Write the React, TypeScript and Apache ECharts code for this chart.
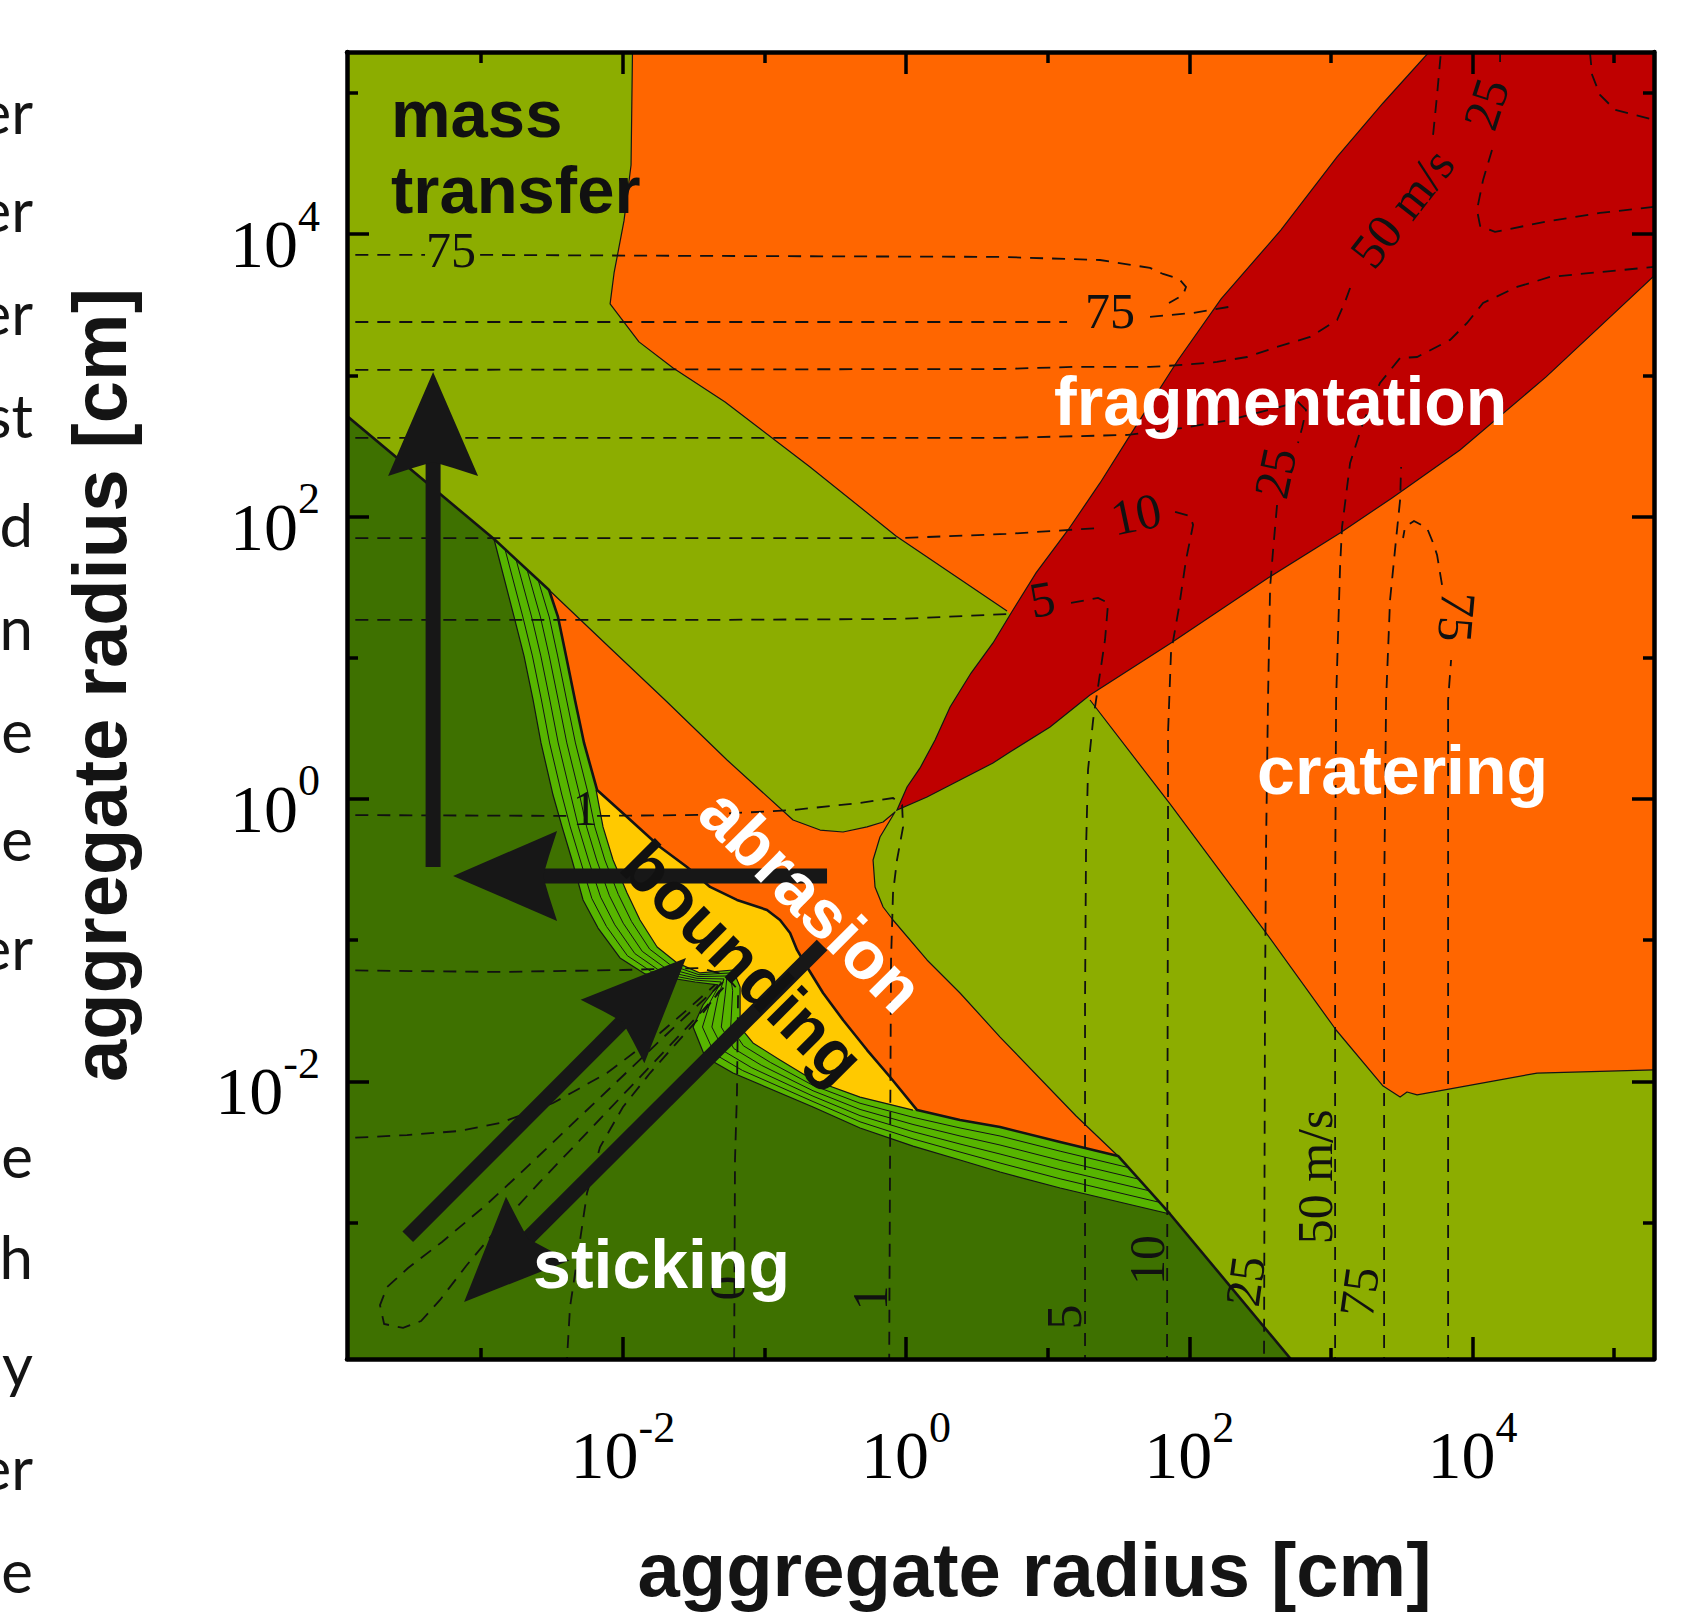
import React, { useEffect, useRef } from "react";
import * as echarts from "echarts";

type Pt = [number, number];

// Both axes: log10(aggregate radius / cm)
const xRange: Pt = [-3.948, 5.282];
const yRange: Pt = [-3.966, 5.29];
const labelledDecades = [-2, 0, 2, 4];
const otherDecades = [-3, -1, 1, 3, 5];

// ---- outcome regions (log10 r1, log10 r2) ----
const orangeRegion: Pt[] = [
  [-1.928, 5.6], [-1.942, 4.49], [-1.992, 4.094], [-2.062, 3.725], [-2.09, 3.506],
  [-1.886, 3.237], [-1.645, 3.052], [-1.278, 2.812], [-0.678, 2.351], [-0.071, 1.863],
  [0.713, 1.331], [1.299, 0.701], [1.864, -0.035], [2.528, -0.928], [3.037, -1.636],
  [3.369, -2.033], [3.489, -2.111], [3.538, -2.075], [3.609, -2.096], [4.456, -1.941],
  [5.282, -1.919], [5.6, -1.92], [5.6, 5.6],
];
const orangeEdge: Pt[] = orangeRegion.slice(0, 11);
const crateringEdge: Pt[] = orangeRegion.slice(11, 22);

const fragmentationRed: Pt[] = [
  [-0.064, -0.078], [0.007, 0.085], [0.099, 0.22], [0.205, 0.418], [0.311, 0.652],
  [0.459, 0.892], [0.614, 1.105], [0.742, 1.317], [0.918, 1.601], [1.144, 1.905],
  [1.37, 2.238], [1.575, 2.564], [1.921, 3.109], [2.225, 3.541], [2.648, 4.03],
  [3.044, 4.547], [3.369, 4.929], [3.7, 5.297], [3.937, 5.6], [5.6, 5.6], [5.6, 4.01],
  [5.282, 3.704], [4.52, 2.989], [3.912, 2.472], [3.432, 2.132], [3.065, 1.884],
  [2.556, 1.565], [1.871, 1.105], [1.299, 0.737], [1.017, 0.51], [0.734, 0.333],
  [0.614, 0.255], [0.381, 0.135], [0.148, 0.014],
];

const abrasionRegion: Pt[] = [
  [-2.521, 1.48], [-2.09, 1.069], [-1.702, 0.701], [-1.264, 0.276], [-0.798, -0.149],
  [-0.607, -0.22], [-0.445, -0.234], [-0.275, -0.198], [-0.162, -0.163], [-0.078, -0.092],
  [-0.184, -0.269], [-0.233, -0.432], [-0.219, -0.623], [-0.162, -0.765], [-0.092, -0.857],
  [0.148, -1.14], [0.381, -1.374], [0.664, -1.686], [1.201, -2.245], [1.497, -2.528],
  [0.664, -2.323], [0.381, -2.273], [0.078, -2.203], [-0.749, -1.778], [-1.808, -1.069],
  [-2.232, -0.007], [-2.443, 1.055],
];
const abrasionEdge: Pt[] = abrasionRegion.slice(0, 20);

const bouncingRegion: Pt[] = [
  [-2.182, 0.064], [-1.97, -0.127], [-1.737, -0.34], [-1.547, -0.482], [-1.384, -0.623],
  [-1.194, -0.715], [-0.982, -0.786], [-0.89, -0.857], [-0.819, -0.949], [-0.77, -1.069],
  [-0.699, -1.19], [-0.586, -1.374], [-0.445, -1.565], [-0.275, -1.778], [-0.113, -1.969],
  [0.078, -2.203], [-0.395, -2.203], [-1.102, -1.848], [-1.596, -1.424], [-1.879, -0.999],
  [-2.161, -0.361],
];
const bouncingEdge: Pt[] = bouncingRegion.slice(0, 16);

// transition bands between sticking and bouncing / abrasion (outer and inner edge)
const bandOuter: Pt[] = [
  [-2.521, 1.48], [-2.458, 1.289], [-2.401, 1.013], [-2.338, 0.701], [-2.274, 0.397],
  [-2.189, 0.064], [-2.14, -0.198], [-2.069, -0.432], [-1.97, -0.666], [-1.879, -0.857],
  [-1.758, -1.048], [-1.617, -1.161], [-1.455, -1.232], [-1.222, -1.211], [-1.172, -1.331],
  [-1.172, -1.615], [-1.081, -1.728], [-0.89, -1.848], [-0.657, -1.99], [-0.325, -2.111],
  [0.049, -2.203], [0.381, -2.273], [0.664, -2.323], [1.088, -2.429], [1.497, -2.528],
];
const bandInner: Pt[] = [
  [-2.91, 1.841], [-2.768, 1.289], [-2.698, 1.013], [-2.634, 0.701], [-2.578, 0.397],
  [-2.493, 0.028], [-2.429, -0.198], [-2.359, -0.432], [-2.281, -0.715], [-2.175, -0.914],
  [-2.02, -1.126], [-1.843, -1.239], [-1.49, -1.296], [-1.328, -1.317], [-1.434, -1.459],
  [-1.504, -1.615], [-1.419, -1.827], [-1.222, -1.941], [-0.657, -2.181], [-0.325, -2.33],
  [0.049, -2.458], [0.381, -2.557], [0.664, -2.642], [1.088, -2.755], [1.864, -2.939],
];
const stickingTopStart: Pt = [-4.5, 3.176];
const stickingBottomEnd: Pt = [3.16, -4.5];
const lowerLeftCorner: Pt = [-4.5, -4.5];
const bandLevels = [0.2, 0.4, 0.6, 0.8];

// ---- velocity contours (dashed), each a list of segments ----
const contour75Upper: Pt[][] = [
  [[-4.2, 3.853], [-3.397, 3.853]],
  [[-3.008, 3.853], [-1.455, 3.846], [0.664, 3.839], [1.37, 3.817], [1.723, 3.761],
   [1.815, 3.718], [1.928, 3.683], [1.977, 3.626], [1.956, 3.569], [1.857, 3.513]],
];
const contour75Lower: Pt[][] = [
  [[-4.2, 3.378], [-1.455, 3.378], [1.137, 3.378]],
  [[1.723, 3.414], [2.027, 3.442], [2.323, 3.492]],
];
const contour75Right: Pt[][] = [
  [[3.828, -4.2], [3.828, -1.424], [3.828, 0.701], [3.849, 0.984]],
  [[3.785, 1.516], [3.75, 1.728], [3.722, 1.813], [3.679, 1.919], [3.587, 1.969],
   [3.524, 1.926], [3.51, 1.848]],
];
const contour75Left: Pt[][] = [
  [[3.376, -4.2], [3.376, -0.715], [3.39, 0.701], [3.418, 1.409], [3.46, 1.834],
   [3.489, 2.118], [3.496, 2.351]],
];
const contour50Upper: Pt[][] = [
  [[-4.2, 3.038], [0.664, 3.045], [1.194, 3.06], [1.723, 3.06], [1.956, 3.074],
   [2.196, 3.095], [2.408, 3.13], [2.62, 3.201], [2.853, 3.272], [3.044, 3.392],
   [3.1, 3.52], [3.136, 3.619]],
  [[3.722, 4.703], [3.75, 4.986], [3.778, 5.297], [3.79, 5.6]],
];
const contour50Lower: Pt[][] = [
  [[3.03, -4.2], [3.03, -0.715], [3.037, 0.701], [3.065, 1.643], [3.079, 1.926],
   [3.136, 2.38], [3.227, 2.663], [3.347, 2.946], [3.489, 3.123], [3.609, 3.13],
   [3.842, 3.251], [3.962, 3.371], [4.075, 3.513], [4.315, 3.626], [4.548, 3.697],
   [5.282, 3.768], [5.6, 3.79]],
];
const contour25: Pt[][] = [
  [[-4.2, 2.557], [0.664, 2.557], [1.568, 2.578], [1.956, 2.628], [2.288, 2.684],
   [2.641, 2.776], [2.768, 2.812], [2.825, 2.755], [2.797, 2.628], [2.768, 2.521]],
  [[2.62, 2.082], [2.592, 1.763], [2.571, 1.501], [2.556, 0.701], [2.542, -0.361],
   [2.535, -1.424], [2.528, -3.959], [2.528, -4.2]],
];
const contour25Corner: Pt[][] = [
  [[4.195, 5.6], [4.195, 5.22]],
  [[4.138, 4.596], [4.075, 4.384], [4.032, 4.171], [4.054, 4.058], [4.159, 4.016],
   [4.548, 4.094], [4.901, 4.15], [5.282, 4.193], [5.6, 4.21]],
];
const contourCorner: Pt[][] = [
  [[4.8, 5.6], [4.845, 5.128], [4.901, 4.986], [5.007, 4.88], [5.282, 4.809], [5.6, 4.79]],
];
const contour10: Pt[][] = [
  [[-4.2, 1.848], [-0.042, 1.848], [0.706, 1.877], [1.37, 1.919]],
  [[1.9, 2.033], [2.006, 2.004], [2.027, 1.941], [1.977, 1.693], [1.928, 1.36],
   [1.871, 1.034], [1.85, 0.467], [1.85, -0.127], [1.843, -3.959], [1.843, -4.2]],
];
const contour5: Pt[][] = [
  [[-4.2, 1.268], [-1.455, 1.268], [-0.042, 1.275], [0.713, 1.31]],
  [[1.165, 1.388], [1.356, 1.424], [1.427, 1.388], [1.405, 1.126], [1.363, 0.843],
   [1.321, 0.559], [1.285, 0.205], [1.271, -0.361], [1.264, -1.424], [1.264, -4.2]],
];
const contour1: Pt[][] = [
  [[-4.2, -0.113], [-2.338, -0.12]],
  [[-2.182, -0.12], [-1.455, -0.113], [-0.798, -0.078], [-0.325, -0.028], [-0.092, 0.007],
   [-0.028, -0.042], [-0.021, -0.198], [-0.064, -0.432], [-0.092, -0.666], [-0.106, -1.14],
   [-0.113, -2.557], [-0.12, -4.2]],
];
const contour05: Pt[][] = [
  [[-4.2, -1.211], [-2.867, -1.225], [-1.999, -1.211], [-1.455, -1.197], [-1.278, -1.246],
   [-1.186, -1.353], [-1.194, -2.082], [-1.208, -2.557], [-1.215, -4.2]],
];
const contourLowA: Pt[][] = [
  [[-4.2, -2.415], [-3.524, -2.38], [-3.15, -2.351], [-2.867, -2.295], [-2.493, -2.153],
   [-2.352, -2.075], [-2.112, -1.941], [-1.737, -1.657], [-1.547, -1.494], [-1.349, -1.317]],
];
const contourLowB: Pt[][] = [
  [[-2.394, -4.2], [-2.394, -3.959], [-2.373, -3.598], [-2.302, -3.123], [-2.253, -2.79],
   [-2.161, -2.465], [-1.999, -2.181], [-1.808, -1.941], [-1.645, -1.756], [-1.455, -1.544],
   [-1.314, -1.353]],
];
const contourLoop: Pt[][] = [
  [[-1.296, -1.3], [-1.554, -1.537], [-1.808, -1.778], [-2.097, -2.054], [-2.387, -2.33],
   [-2.676, -2.606], [-2.97, -2.879], [-3.277, -3.137], [-3.517, -3.322], [-3.665, -3.456],
   [-3.715, -3.584], [-3.686, -3.718], [-3.552, -3.746], [-3.425, -3.697], [-3.291, -3.548],
   [-3.107, -3.307], [-2.85, -2.999], [-2.578, -2.705], [-2.302, -2.415], [-2.027, -2.125],
   [-1.751, -1.834], [-1.511, -1.579], [-1.275, -1.321], [-1.215, -1.239], [-1.296, -1.3]],
];
const allContours: Pt[][][] = [
  contour75Upper, contour75Lower, contour75Right, contour75Left, contour50Upper,
  contour50Lower, contour25, contour25Corner, contourCorner, contour10, contour5,
  contour1, contour05, contourLowA, contourLowB, contourLoop,
];

// contour labels: text, log r1, log r2, angle (deg)
const contourLabels: [string, number, number, number][] = [
  ["75", -3.213, 3.89, 0],
  ["75", 1.441, 3.456, 0],
  ["50 m/s", 3.503, 4.186, 52],
  ["25", 4.096, 4.922, 72],
  ["25", 2.606, 2.309, 78],
  ["10", 1.624, 2.018, 12],
  ["5", 0.96, 1.416, 10],
  ["1", -2.267, -0.064, 0],
  ["75", 3.891, 1.289, -95],
  ["0", -1.264, -3.463, 90],
  ["1", -0.254, -3.534, 90],
  ["5", 1.116, -3.669, 90],
  ["10", 1.702, -3.265, 90],
  ["25", 2.394, -3.414, 82],
  ["50 m/s", 2.888, -2.677, 90],
  ["75", 3.199, -3.491, 82],
];

// region names: text, log r1, log r2, angle (deg)
const regionNames: [string, number, number, number][] = [
  ["mass", -3.637, 4.853, 0],
  ["transfer", -3.637, 4.314, 0],
  ["fragmentation", 1.045, 2.82, 0],
  ["cratering", 2.479, 0.207, 0],
  ["sticking", -2.634, -3.292, 0],
  ["abrasion", -0.664, -0.715, -45],
  ["bounding", -1.151, -1.154, -45],
];

// growth arrows: from (r1,r2) to (r1,r2)
const arrowPaths: [number, number, number, number][] = [
  [-3.34, -0.482, -3.34, 3.024],
  [-0.558, -0.545, -3.199, -0.545],
  [-3.519, -3.1, -1.554, -1.126],
  [-0.593, -1.034, -3.121, -3.562],
];

// cut-off text of the neighbouring page column
const marginFragments = ["er", "er", "er", "st", "d", "n", "e", "e", "er", "e", "h", "y", "er", "e"];
const marginFragmentY = [111, 209, 312, 415, 524, 627, 730, 838, 947, 1155, 1256, 1364, 1467, 1570];

const OLIVE = "#8CAD00";
const ORANGE = "#FF6600";
const RED = "#BF0000";
const YELLOW = "#FFC900";
const BAND = "#57B500";
const DARK = "#3E7100";
const EDGE = "#141414";
const ARROW = "#171717";
const SERIF = '"Liberation Serif", "Times New Roman", Times, serif';
const SANS = '"Liberation Sans", Arial, Helvetica, sans-serif';

function lerp(a: Pt, b: Pt, t: number): Pt {
  return [a[0] + (b[0] - a[0]) * t, a[1] + (b[1] - a[1]) * t];
}

function renderRegions(_p: any, api: any) {
  const c = (pts: Pt[]) => pts.map((p) => api.coord(p));
  const kids: any[] = [];
  const fill = (pts: Pt[], color: string, stroke = "none", lw = 0) =>
    kids.push({ type: "polygon", shape: { points: c(pts) }, style: { fill: color, stroke, lineWidth: lw } });
  const line = (pts: Pt[], color: string, lw: number) =>
    kids.push({ type: "polyline", shape: { points: c(pts) }, style: { fill: "none", stroke: color, lineWidth: lw, lineJoin: "round" } });

  fill(orangeRegion, ORANGE);
  fill(fragmentationRed, RED, EDGE, 1.2);
  fill(abrasionRegion, ORANGE);
  fill(bouncingRegion, YELLOW);
  const last = bandInner.length - 1;
  fill([stickingTopStart, bandInner[0], ...bandOuter, bandInner[last], stickingBottomEnd, lowerLeftCorner], BAND);
  bandLevels.forEach((t) => line(bandOuter.map((o, i) => lerp(o, bandInner[i], t)), EDGE, 1));
  fill([stickingTopStart, ...bandInner, stickingBottomEnd, lowerLeftCorner], DARK);
  line(bandInner, EDGE, 1.2);
  line(bandOuter.slice(5, 21), EDGE, 1.2);
  line(orangeEdge, EDGE, 1.2);
  line(crateringEdge, EDGE, 1.2);
  line(abrasionEdge, EDGE, 1.2);
  line(
    [stickingTopStart, bandInner[0], ...bandOuter.slice(0, 5), ...bouncingEdge, ...bandOuter.slice(21), bandInner[last], stickingBottomEnd],
    EDGE,
    2.6
  );
  return { type: "group", children: kids };
}

function renderContours(_p: any, api: any) {
  const kids: any[] = [];
  allContours.forEach((segs) =>
    segs.forEach((seg) =>
      kids.push({
        type: "polyline",
        shape: { points: seg.map((p) => api.coord(p)) },
        style: { fill: "none", stroke: "#111", lineWidth: 1.8, lineDash: [13, 9] },
      })
    )
  );
  return { type: "group", children: kids };
}

function renderContourLabels(_p: any, api: any) {
  return {
    type: "group",
    children: contourLabels.map(([text, x, y, ang]) => {
      const [px, py] = api.coord([x, y]);
      return {
        type: "text",
        x: px,
        y: py,
        rotation: (ang * Math.PI) / 180,
        style: {
          text, x: 0, y: 0, fill: "#111", fontSize: 50, fontFamily: SERIF,
          align: "center", verticalAlign: "middle", textAlign: "center", textVerticalAlign: "middle",
        },
      };
    }),
  };
}

function renderArrows(_p: any, api: any) {
  const kids: any[] = [];
  arrowPaths.forEach(([x0, y0, x1, y1]) => {
    const a = api.coord([x0, y0]);
    const b = api.coord([x1, y1]);
    const dx = b[0] - a[0];
    const dy = b[1] - a[1];
    const L = Math.hypot(dx, dy);
    const ux = dx / L, uy = dy / L, nx = -uy, ny = ux;
    const headLen = 104, notch = 90, hw = 45, sw = 7.5;
    const bx = b[0] - ux * (notch - 4), by = b[1] - uy * (notch - 4);
    kids.push({
      type: "polygon",
      shape: { points: [[a[0] + nx * sw, a[1] + ny * sw], [bx + nx * sw, by + ny * sw], [bx - nx * sw, by - ny * sw], [a[0] - nx * sw, a[1] - ny * sw]] },
      style: { fill: ARROW },
    });
    const wx = b[0] - ux * headLen, wy = b[1] - uy * headLen;
    const mx = b[0] - ux * (headLen - 8), my = b[1] - uy * (headLen - 8);
    kids.push({
      type: "polygon",
      shape: {
        points: [
          [b[0], b[1]],
          [wx + nx * hw, wy + ny * hw],
          [mx + nx * hw * 0.45, my + ny * hw * 0.45],
          [b[0] - ux * notch, b[1] - uy * notch],
          [mx - nx * hw * 0.45, my - ny * hw * 0.45],
          [wx - nx * hw, wy - ny * hw],
        ],
      },
      style: { fill: ARROW },
    });
  });
  return { type: "group", children: kids };
}

function renderRegionNames(_p: any, api: any) {
  const white = new Set(["fragmentation", "cratering", "sticking", "abrasion"]);
  return {
    type: "group",
    children: regionNames.map(([text, x, y, ang]) => {
      const [px, py] = api.coord([x, y]);
      const centred = ang !== 0;
      return {
        type: "text",
        x: px,
        y: py,
        rotation: (ang * Math.PI) / 180,
        style: {
          text, x: 0, y: 0, fill: white.has(text) ? "#FFFFFF" : "#111111",
          fontSize: text === "mass" || text === "transfer" ? 67 : 68,
          fontWeight: "bold", fontFamily: SANS,
          align: centred ? "center" : "left", verticalAlign: "middle",
          textAlign: centred ? "center" : "left", textVerticalAlign: "middle",
        },
      };
    }),
  };
}

function tickRich() {
  return {
    b: { fontFamily: SERIF, fontSize: 68, lineHeight: 84, verticalAlign: "bottom", color: "#000" },
    s: { fontFamily: SERIF, fontSize: 44, lineHeight: 44, verticalAlign: "top", color: "#000" },
  };
}

function makeAxis(kind: "x" | "y", position: string, ticks: number[], long: boolean, labels: boolean, showLine: boolean) {
  const range = kind === "x" ? xRange : yRange;
  return {
    type: "value",
    min: range[0],
    max: range[1],
    position,
    z: 10,
    axisLine: { show: showLine, onZero: false, lineStyle: { color: "#000", width: 4.5 } },
    axisTick: { show: true, inside: true, length: long ? 22 : 11, customValues: ticks, lineStyle: { color: "#000", width: 3.5 } },
    axisLabel: labels
      ? {
          show: true,
          customValues: ticks,
          margin: kind === "x" ? 46 : 27,
          padding: kind === "x" ? 0 : [4, 0, 0, 0],
          formatter: (v: number) => `{b|10}{s|${v}}`,
          rich: tickRich(),
        }
      : { show: false },
    splitLine: { show: false },
    minorTick: { show: false },
  };
}

function customSeries(renderItem: any, z: number) {
  return {
    type: "custom",
    coordinateSystem: "cartesian2d",
    xAxisIndex: 0,
    yAxisIndex: 0,
    data: [[0, 0]],
    encode: { x: 0, y: 1 },
    clip: true,
    silent: true,
    z,
    renderItem,
  };
}

function buildOption() {
  const textBase = { fill: "#141414", fontFamily: SANS, fontWeight: "bold", fontSize: 76, align: "center", verticalAlign: "middle", textAlign: "center", textVerticalAlign: "middle" };
  return {
    animation: false,
    backgroundColor: "#ffffff",
    grid: { left: 347, top: 52, width: 1307, height: 1307, show: true, backgroundColor: OLIVE, borderWidth: 0 },
    xAxis: [
      makeAxis("x", "bottom", labelledDecades, true, true, true),
      makeAxis("x", "bottom", otherDecades, false, false, false),
      makeAxis("x", "top", labelledDecades, true, false, true),
      makeAxis("x", "top", otherDecades, false, false, false),
    ],
    yAxis: [
      makeAxis("y", "left", labelledDecades, true, true, true),
      makeAxis("y", "left", otherDecades, false, false, false),
      makeAxis("y", "right", labelledDecades, true, false, true),
      makeAxis("y", "right", otherDecades, false, false, false),
    ],
    series: [
      customSeries(renderRegions, 1),
      customSeries(renderContours, 2),
      customSeries(renderContourLabels, 3),
      customSeries(renderArrows, 4),
      customSeries(renderRegionNames, 5),
    ],
    graphic: {
      elements: [
        { type: "text", x: 1034.5, y: 1569, silent: true, style: { ...textBase, text: "aggregate radius [cm]" } },
        { type: "text", x: 99, y: 685, rotation: Math.PI / 2, silent: true, style: { ...textBase, text: "aggregate radius [cm]" } },
        ...marginFragments.map((t, i) => ({
          type: "text",
          x: 33,
          y: marginFragmentY[i],
          silent: true,
          style: { text: t, fill: "#141414", fontFamily: "Lato, 'Open Sans', sans-serif", fontSize: 60, align: "right", verticalAlign: "middle", textAlign: "right", textVerticalAlign: "middle" },
        })),
      ],
    },
  };
}

export default function App() {
  const ref = useRef<HTMLDivElement>(null);
  useEffect(() => {
    document.body.style.margin = "0";
    const chart = echarts.init(ref.current as HTMLDivElement, null, { renderer: "svg" });
    chart.setOption(buildOption() as any);
    return () => chart.dispose();
  }, []);
  return <div ref={ref} style={{ width: 1701, height: 1612, background: "#fff" }} />;
}
